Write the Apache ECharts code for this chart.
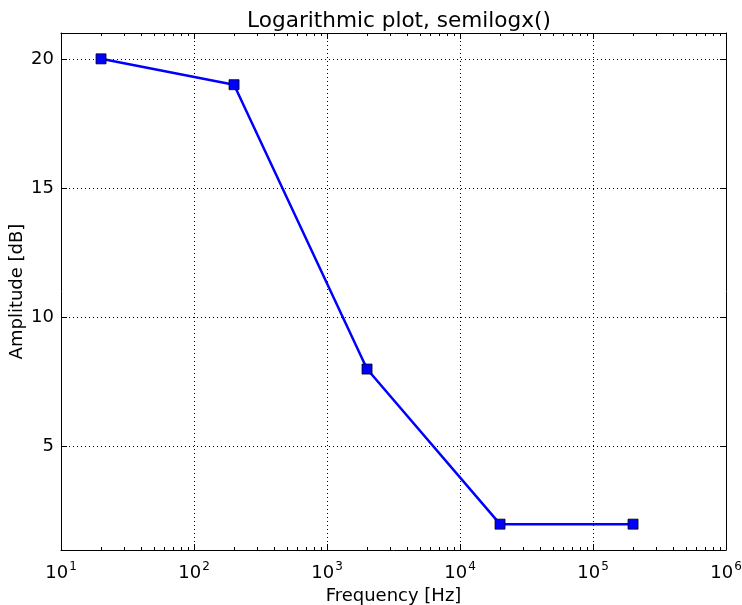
<!DOCTYPE html>
<html><head><meta charset="utf-8">
<script src="https://cdn.jsdelivr.net/npm/echarts@6/dist/echarts.min.js"></script>
<style>html,body{margin:0;padding:0;background:#fff}#c{width:742px;height:605px}</style>
</head><body><div id="c"></div>
<script>
const frequencies = [20, 200, 2000, 20000, 200000];
const amplitudes = [20, 19, 8, 2, 2];
const yTicks = [5, 10, 15, 20];
const titleText = 'Logarithmic plot, semilogx()';
const xName = 'Frequency [Hz]';
const yName = 'Amplitude [dB]';

const FONT = 'DejaVu Sans';
const chart = echarts.init(document.getElementById('c'), null, {renderer: 'canvas'});
const data = frequencies.map((f, i) => [f, amplitudes[i]]);

function xAxisBase(pos, showLabel) {
  return {
    type: 'log', logBase: 10, min: 10, max: 1e6, position: pos,
    axisLine: {show: true, onZero: false, lineStyle: {color: '#000', width: 1}},
    axisTick: {show: true, inside: true, length: 6, lineStyle: {color: '#000', width: 1}},
    minorTick: {show: true, splitNumber: 9, length: 3, lineStyle: {color: '#000', width: 1}},
    splitLine: {show: pos === 'bottom', lineStyle: {color: '#000', type: [1, 3], width: 1}},
    axisLabel: {
      show: showLabel, margin: 6, color: '#000', fontFamily: FONT, fontSize: 18,
      formatter: v => '{b|10}{sup|' + Math.round(Math.log10(v)) + '}',
      rich: {
        b: {fontSize: 18, fontFamily: FONT, color: '#000', padding: [8, 0, 0, 0]},
        sup: {fontSize: 12, fontFamily: FONT, color: '#000', padding: [0, 0, 4, 1]}
      }
    },
    name: pos === 'bottom' ? xName : '', nameLocation: 'middle', nameGap: 37, nameMoveOverlap: false,
    nameTextStyle: {color: '#000', fontFamily: FONT, fontSize: 18}
  };
}
function yAxisBase(pos, showLabel) {
  return {
    type: 'value', min: 1, max: 21, position: pos,
    axisLine: {show: true, onZero: false, lineStyle: {color: '#000', width: 1}},
    axisTick: {show: true, inside: true, length: 6, customValues: yTicks, lineStyle: {color: '#000', width: 1}},
    splitLine: {show: pos === 'left', lineStyle: {color: '#000', type: [1, 3], width: 1}},
    axisLabel: {show: showLabel, customValues: yTicks, margin: 7, color: '#000', fontFamily: FONT, fontSize: 18},
    name: pos === 'left' ? yName : '', nameLocation: 'middle', nameGap: 35, nameRotate: 90, nameMoveOverlap: false,
    nameTextStyle: {color: '#000', fontFamily: FONT, fontSize: 18}
  };
}

chart.setOption({
  animation: false,
  backgroundColor: '#fff',
  title: {text: titleText, left: 394, textAlign: 'center', top: 5,
    textStyle: {color: '#000', fontFamily: FONT, fontSize: 21.6, fontWeight: 'normal'}},
  grid: {left: 61, right: 16, top: 33, bottom: 55, containLabel: false, outerBoundsMode: 'none'},
  xAxis: [xAxisBase('bottom', true), xAxisBase('top', false)],
  yAxis: [yAxisBase('left', true), yAxisBase('right', false)],
  series: [{
    type: 'line', xAxisIndex: 0, yAxisIndex: 0, data: data,
    lineStyle: {color: '#0000ff', width: 2.5},
    itemStyle: {color: '#0000ff', borderColor: '#000', borderWidth: 0.8},
    symbol: 'rect', symbolSize: 10, showSymbol: true
  }]
});
</script></body></html>
